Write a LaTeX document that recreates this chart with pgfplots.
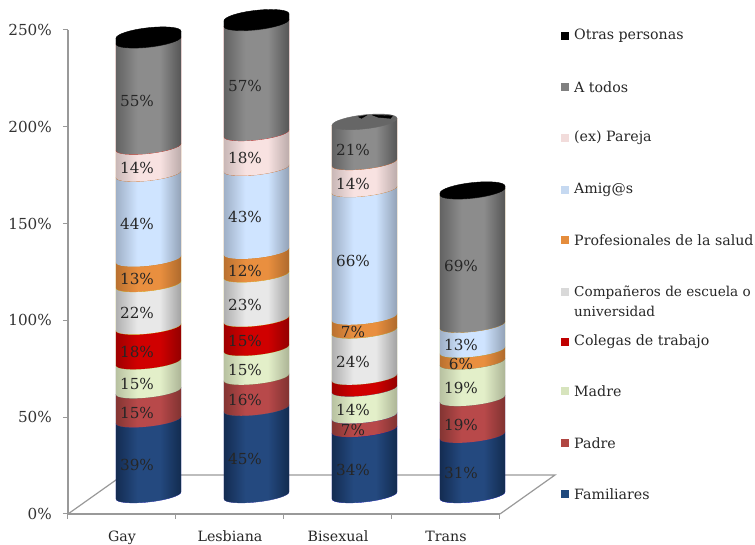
\documentclass[border=0pt]{standalone}
\usepackage{fontspec}
\setmainfont{DejaVu Serif}
\usepackage{pgfplots}
\usepackage{pgfplotstable}
\pgfplotsset{compat=1.18}

% one row per category, x is the category centre on the front edge of the floor
\pgfplotstableread{
x   Fam Pad Mad Col ColLab Comp Prof Amig Par Atod Otr
0.5 39  15  15  18  18     22   13   44   14  55   3
1.5 45  16  15  15  15     23   12   43   18  57   3
2.5 34  7   14  6   0      24   7    66   14  21   0
3.5 31  19  19  0   0      0    6    13   0   69   1
}\datatable

\newcommand\txtfont{\fontsize{14.2}{17}\selectfont}
\newcommand\pctfont{\fontsize{15.2}{18}\selectfont}

% side of one segment, \hh high, origin on its top centre
\newcommand\sidepath{%
  (-32.5,-3.5) -- (-32.5,{-3.5-\hh})
  .. controls (-32.5,{-3.5-\hh-3.6}) and (-17.95,{-1.93-6.5-\hh}) .. (0,{-6.5-\hh})
  .. controls (17.95,{1.93-6.5-\hh}) and (32.5,{3.5-\hh-3.6}) .. (32.5,{3.5-\hh})
  -- (32.5,3.5) -- cycle}
\newcommand\lidpath{%
  (-32.5,-3.5) .. controls (-32.5,-7.4) and (-17.95,-8.9) .. (0,-7)
  .. controls (17.95,-5.1) and (32.5,-0.4) .. (32.5,3.5)
  .. controls (32.5,7.4) and (17.95,8.9) .. (0,7)
  .. controls (-17.95,5.1) and (-32.5,0.4) .. cycle}

% #1 name, #2 edge left, #3 centre, #4 edge right
\newcommand\cylshade[4]{%
  \definecolor{#1L}{HTML}{#2}\definecolor{#1C}{HTML}{#3}\definecolor{#1R}{HTML}{#4}%
  \pgfdeclarehorizontalshading{sh#1}{100bp}{color(0bp)=(#1L); color(25bp)=(#1L);
    color(42bp)=(#1C); color(58bp)=(#1C); color(75bp)=(#1R); color(100bp)=(#1R)}%
  \pgfdeclareplotmark{cyl#1}{%
    \ifdim\segh pt>0pt
      \pgfmathsetmacro\hh{\segh*1.936}%
      \begin{scope}[x=1pt, y=1pt]
      \pgftransformshift{\pgfqpoint{26.5pt}{18.5pt}}%
      \clip \sidepath;
      \path[shading=sh#1] (-35,{-15-\hh}) rectangle (35,10);
      \end{scope}
    \fi
  }%
}
\cylshade{fam}{12294D}{24497F}{10284A}
\cylshade{pad}{7E3330}{B8494A}{7A302E}
\cylshade{mad}{B3BC9C}{E3EFC9}{A6AE90}
\cylshade{col}{9A0000}{D00000}{8C0000}
\cylshade{comp}{A9A9A9}{E8E8E8}{9A9A9A}
\cylshade{prof}{B56E2E}{E98F3F}{A8662A}
\cylshade{amig}{9AAAC0}{CFE4FF}{8B9AAE}
\cylshade{par}{C4B3B2}{F8E2E1}{B5A5A4}
\cylshade{atod}{5E5E5E}{8C8C8C}{505050}

\pgfdeclareplotmark{cylatodlid}{%
  \pgfuseplotmark{cylatod}%
  \begin{scope}[x=1pt, y=1pt]
  \pgftransformshift{\pgfqpoint{26.5pt}{18.5pt}}%
  \fill[black!60] \lidpath;
  \end{scope}
}
\pgfdeclareplotmark{cylotr}{%
  \begin{scope}[x=1pt, y=1pt]
  \pgftransformshift{\pgfqpoint{26.5pt}{18.5pt}}%
  \ifdim\segh pt>0pt
    \pgfmathsetmacro\hh{\segh*1.936}%
    \fill[black] \sidepath;
    \fill[black] \lidpath;
  \else
    % nearly nothing in this series: only flecks at the back of the lid
    \fill[black] (-6,5) -- (2,6.5) -- (-3,3.5) -- cycle;
    \fill[black] (8,6.8) -- (28,6) -- (26,3.5) -- (14,4.5) -- cycle;
  \fi
  \end{scope}
}
\pgfdeclareplotmark{pctlabel}{%
  \ifdim\labv pt>0pt
    \pgfmathsetmacro\hh{\segh*1.936}%
    \node[font=\pctfont, text=black!85, inner sep=0pt, x=1pt, y=1pt] at (15,{11-\hh/2})
      {\pgfmathprintnumber[fixed,precision=0,assume math mode=true]{\labv}\%};
  \fi
}

% #1 value column, #2 mark
\newcommand\segplot[2]{%
  \addplot[only marks, scatter, mark=#2, forget plot,
    visualization depends on={\thisrow{#1} \as \segh}]
    table[x=x, y=#1] {\datatable};
}
% #1 value column, #2 column with the printed number
\newcommand\labplot[2]{%
  \addplot[only marks, scatter, mark=pctlabel, forget plot,
    visualization depends on={\thisrow{#1} \as \segh},
    visualization depends on={\thisrow{#2} \as \labv}]
    table[x=x, y=#1] {\datatable};
}

\definecolor{legpar}{HTML}{F2DCDB}
\definecolor{legamig}{HTML}{C6D9F1}
\definecolor{legprof}{HTML}{E58D3C}
\definecolor{legmad}{HTML}{D7E4BD}
\definecolor{legpad}{HTML}{B04642}
\definecolor{legcol}{HTML}{C00000}
\definecolor{legfam}{HTML}{1F497D}
\newcommand\legitem[3]{%
  \fill[#2] (561pt,{(545-#1-4)*1pt}) rectangle ++(8pt,8pt);
  \node[anchor=west, font=\txtfont, text=black!85, inner sep=0pt, align=left] at (574pt,{(545-#1)*1pt}) {#3};
}

\begin{document}
\begin{tikzpicture}
\useasboundingbox (0,0) rectangle (755pt,545pt);
\pgfplotsset{chartaxis/.style={
  scale only axis, width=432pt, height=484pt,
  at={(68pt,31pt)}, anchor=south west,
  xmin=0, xmax=4, ymin=0, ymax=250,
  clip=false, stack plots=y, reverse stacked plots=false,
}}
\begin{axis}[chartaxis,
  axis x line*=bottom, axis y line*=left,
  axis line style={-, draw=black!40, line width=1.3pt},
  tick style={draw=black!40, line width=1pt},
  ytick={0,50,...,250},
  yticklabel={\pgfmathprintnumber{\tick}\%},
  /pgf/number format/assume math mode=true,
  tick align=outside, major tick length=5pt,
  y tick label style={font=\pctfont, text=black!80, inner sep=0pt, xshift=-11pt},
  xtick={0.5,1.5,2.5,3.5},
  xticklabels={Gay,Lesbiana,Bisexual,Trans},
  x tick label style={font=\txtfont, text=black!85, inner sep=0pt, yshift=-12pt},
  x tick style={draw=none},
  minor xtick={0,1,2,3,4},
  minor x tick style={draw=black!40, line width=1pt},
  minor tick length=5pt,
]
% floor of the 3-D box
\draw[black!40, line width=1.2pt]
  (axis cs:0,0) -- ++(55pt,39pt) -- ++(432pt,0pt) -- (axis cs:4,0);
\segplot{Fam}{cylfam}
\segplot{Pad}{cylpad}
\segplot{Mad}{cylmad}
\segplot{Col}{cylcol}
\segplot{Comp}{cylcomp}
\segplot{Prof}{cylprof}
\segplot{Amig}{cylamig}
\segplot{Par}{cylpar}
\segplot{Atod}{cylatodlid}
\segplot{Otr}{cylotr}
\end{axis}
% labels again from the same table, so that no segment covers them
\begin{axis}[chartaxis, hide axis]
\labplot{Fam}{Fam}
\labplot{Pad}{Pad}
\labplot{Mad}{Mad}
\labplot{Col}{ColLab}
\labplot{Comp}{Comp}
\labplot{Prof}{Prof}
\labplot{Amig}{Amig}
\labplot{Par}{Par}
\labplot{Atod}{Atod}
\end{axis}
\legitem{36}{black}{Otras personas}
\legitem{87}{black!50}{A todos}
\legitem{138}{legpar}{(ex) Pareja}
\legitem{190}{legamig}{Amig@s}
\legitem{240}{legprof}{Profesionales de la salud}
\fill[black!15] (561pt,249pt) rectangle ++(8pt,8pt);
\node[anchor=north west, font=\fontsize{13.6}{19.5}\selectfont, text=black!85, inner sep=0pt, align=left] at (574pt,259pt) {Compañeros de escuela o\\universidad};
\legitem{342}{legcol}{Colegas de trabajo}
\legitem{391}{legmad}{Madre}
\legitem{443}{legpad}{Padre}
\legitem{494}{legfam}{Familiares}
\end{tikzpicture}
\end{document}
